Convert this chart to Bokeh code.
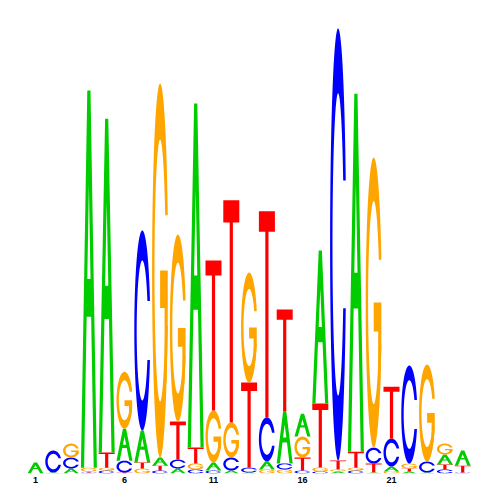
import numpy as np
from bokeh.plotting import figure
from bokeh.models import ColumnDataSource, FixedTicker
from bokeh.embed import file_html
from bokeh.resources import INLINE

# ---- data (information content in bits per letter, per position) ----
positions = list(range(1, 26))
bits_A = [0.049, 0.004, 0.022, 1.676, 1.484, 0.142, 0.142, 0.036, 0.022, 1.529,
          0.036, 0.013, 0.004, 0.036, 0.231, 0.102, 0.680, 0.009, 1.591, 0.004,
          0.022, 0.009, 0.004, 0.044, 0.067]
bits_C = [0.000, 0.098, 0.049, 0.004, 0.013, 0.053, 0.889, 0.013, 0.040, 0.018,
          0.013, 0.058, 0.022, 0.196, 0.027, 0.013, 0.009, 1.920, 0.013, 0.071,
          0.124, 0.436, 0.049, 0.018, 0.004]
bits_G = [0.000, 0.000, 0.062, 0.018, 0.013, 0.253, 0.022, 1.662, 0.831, 0.027,
          0.231, 0.156, 0.489, 0.018, 0.018, 0.093, 0.018, 0.009, 0.013, 1.289,
          0.009, 0.022, 0.431, 0.049, 0.000]
bits_T = [0.000, 0.000, 0.000, 0.004, 0.067, 0.004, 0.027, 0.022, 0.169, 0.071,
          0.667, 0.987, 0.378, 0.916, 0.453, 0.058, 0.284, 0.040, 0.071, 0.040,
          0.231, 0.013, 0.000, 0.022, 0.031]
tick_positions = [1, 6, 11, 16, 21]
letters = ["A", "C", "G", "T"]
letter_colors = {"A": "#00CC00", "C": "#0000FF", "G": "#FFA500", "T": "#FF0000"}

# ---- letter outline templates in a unit box ----
def ring_outline():
    th_out = np.linspace(0.3, 2 * np.pi - 0.3, 140)
    phi = np.arcsin(0.5 * np.sin(0.3) / 0.35)
    th_in = np.linspace(2 * np.pi - phi, phi, 140)
    u = np.concatenate([0.5 + 0.5 * np.cos(th_out), 0.5 + 0.35 * np.cos(th_in)])
    v = np.concatenate([0.5 + 0.5 * np.sin(th_out), 0.5 + 0.35 * np.sin(th_in)])
    return u, v

RING = ring_outline()
SHAPES = {
    "A": [(np.array([0, 0.4, 0.6, 1, 0.8, 0.64, 0.36, 0.2]),
           np.array([0, 1, 1, 0, 0, 0.4, 0.4, 0]))],
    "C": [RING],
    "G": [RING,
          (np.array([0.978, 0.5, 0.5, 0.78, 0.78, 0.9, 0.978]),
           np.array([0.5, 0.5, 0.4, 0.4, 0.2, 0.2, 0.352]))],
    "T": [(np.array([0, 1, 1, 0.6, 0.6, 0.4, 0.4, 0]),
           np.array([1, 1, 0.9, 0.9, 0, 0, 0.9, 0.9]))],
}
A_HOLE = (np.array([0.4, 0.5, 0.6]), np.array([0.5, 0.75, 0.5]))

letter_w = 0.9
xs, ys, cols = [], [], []
hx, hy = [], []
heights = {"A": bits_A, "C": bits_C, "G": bits_G, "T": bits_T}
for i, pos in enumerate(positions):
    col = sorted(((heights[L][i], L) for L in letters))
    y0 = 0.0
    for h, L in col:
        if h <= 0:
            continue
        left = pos - letter_w / 2
        for (u, v) in SHAPES[L]:
            xs.append(list(left + letter_w * u))
            ys.append(list(y0 + h * v))
            cols.append(letter_colors[L])
        if L == "A":
            u, v = A_HOLE
            hx.append(list(left + letter_w * u))
            hy.append(list(y0 + h * v))
        y0 += h

px_per_pos = 17.8
x_start = 1 - 35 / px_per_pos
x_end = x_start + 492 / px_per_pos

p = figure(frame_width=492, frame_height=473,
           x_range=(x_start, x_end), y_range=(0, 473 / 225),
           output_backend="svg", toolbar_location=None,
           x_axis_location="below", y_axis_location=None,
           min_border_left=0, min_border_right=0, min_border_top=0, min_border_bottom=0)
p.outline_line_color = None
p.xgrid.visible = False
p.ygrid.visible = False
p.background_fill_color = "white"

p.patches(xs="xs", ys="ys", fill_color="c", line_color=None,
          source=ColumnDataSource(dict(xs=xs, ys=ys, c=cols)))
p.patches(xs="xs", ys="ys", fill_color="white", line_color=None,
          source=ColumnDataSource(dict(xs=hx, ys=hy)))

ax = p.xaxis[0]
ax.ticker = FixedTicker(ticks=tick_positions)
ax.axis_line_color = None
ax.major_tick_line_color = None
ax.minor_tick_line_color = None
ax.major_tick_out = 0
ax.major_tick_in = 0
ax.minor_tick_out = 0
ax.major_label_standoff = 3
ax.major_label_text_font = "Liberation Sans"
ax.major_label_text_font_style = "bold"
ax.major_label_text_font_size = "9px"
ax.major_label_text_color = "black"

open("out.html", "w").write(file_html(p, INLINE))
